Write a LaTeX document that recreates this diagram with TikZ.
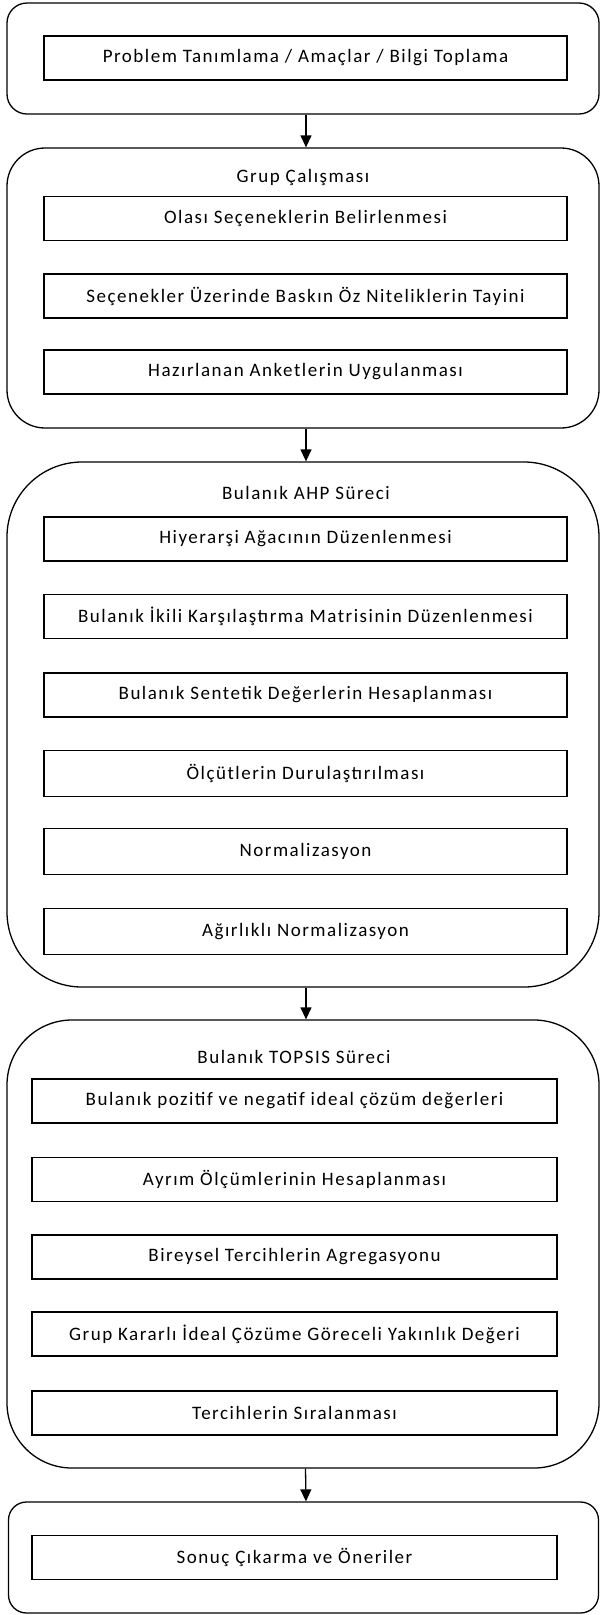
\documentclass[tikz,border=0pt]{standalone}
\usepackage{fontspec}
\setmainfont{Carlito}[LetterSpace=8]
\usetikzlibrary{arrows.meta}
\tikzset{
  adim/.style={draw, line width=1.3pt, minimum width=523pt, minimum height=44pt, inner sep=0pt, font=\fontsize{19}{22}\selectfont},
  asama/.style={draw, line width=1.3pt, inner sep=0pt, minimum width=592pt},
  baslik/.style={font=\fontsize{19}{22}\selectfont},
  ok/.style={-{Triangle[width=11pt,length=12pt]}, line width=1.3pt}
}
\begin{document}
\begin{tikzpicture}[x=1pt,y=-1pt]
\useasboundingbox (0,0) rectangle (600,1615);

% problem tanimlama
\node[asama, rounded corners=20pt, minimum height=111pt] (kutu1) at (303,58.5) {};
\node[adim] (p1) at (305.5,58) {Problem Tanımlama / Amaçlar / Bilgi Toplama};

% grup calismasi
\node[asama, rounded corners=38pt, minimum height=280pt] (kutu2) at (303,288) {};
\node[baslik] (b2) at (303,177) {Grup Çalışması};
\node[adim] (g1) at (305.5,218.5) {Olası Seçeneklerin Belirlenmesi};
\node[adim] (g2) at (305.5,296) {Seçenekler Üzerinde Baskın Öz Niteliklerin Tayini};
\node[adim] (g3) at (305.5,372) {Hazırlanan Anketlerin Uygulanması};

% bulanik AHP
\node[asama, rounded corners=75pt, minimum height=525pt] (kutu3) at (303,724.5) {};
\node[baslik] (b3) at (306,493) {Bulanık AHP Süreci};
\node[adim] (a1) at (305.5,539) {Hiyerarşi Ağacının Düzenlenmesi};
\node[adim] (a2) at (305.5,616.5) {Bulanık İkili Karşılaştırma Matrisinin Düzenlenmesi};
\node[adim] (a3) at (305.5,695) {Bulanık Sentetik Değerlerin Hesaplanması};
\node[adim, minimum height=46pt] (a4) at (305.5,773.5) {Ölçütlerin Durulaştırılması};
\node[adim, minimum height=46pt] (a5) at (305.5,851.5) {Normalizasyon};
\node[adim, minimum height=46pt] (a6) at (305.5,931.5) {Ağırlıklı Normalizasyon};

% bulanik TOPSIS
\node[asama, rounded corners=65pt, minimum height=448pt] (kutu4) at (303,1244) {};
\node[baslik] (b4) at (294,1057) {Bulanık TOPSIS Süreci};
\node[adim, minimum width=525pt] (t1) at (294.5,1101) {Bulanık pozitif ve negatif ideal çözüm değerleri};
\node[adim, minimum width=525pt] (t2) at (294.5,1179.5) {Ayrım Ölçümlerinin Hesaplanması};
\node[adim, minimum width=525pt] (t3) at (294.5,1257) {Bireysel Tercihlerin Agregasyonu};
\node[adim, minimum width=525pt] (t4) at (294.5,1334) {Grup Kararlı İdeal Çözüme Göreceli Yakınlık Değeri};
\node[adim, minimum width=525pt] (t5) at (294.5,1413) {Tercihlerin Sıralanması};

% sonuc
\node[asama, rounded corners=18pt, minimum width=590pt, minimum height=111pt] (kutu5) at (303.5,1557.5) {};
\node[adim, minimum width=525pt] (s1) at (294.5,1557.5) {Sonuç Çıkarma ve Öneriler};

% oklar
\draw[ok] ([xshift=3pt]kutu1.south) -- ([xshift=3pt]kutu2.north);
\draw[ok] ([xshift=3pt]kutu2.south) -- ([xshift=3pt]kutu3.north);
\draw[ok] ([xshift=3pt]kutu3.south) -- ([xshift=3pt]kutu4.north);
\draw[ok] ([xshift=2.5pt]kutu4.south) -- ([xshift=2.5pt]kutu5.north);
\end{tikzpicture}
\end{document}
